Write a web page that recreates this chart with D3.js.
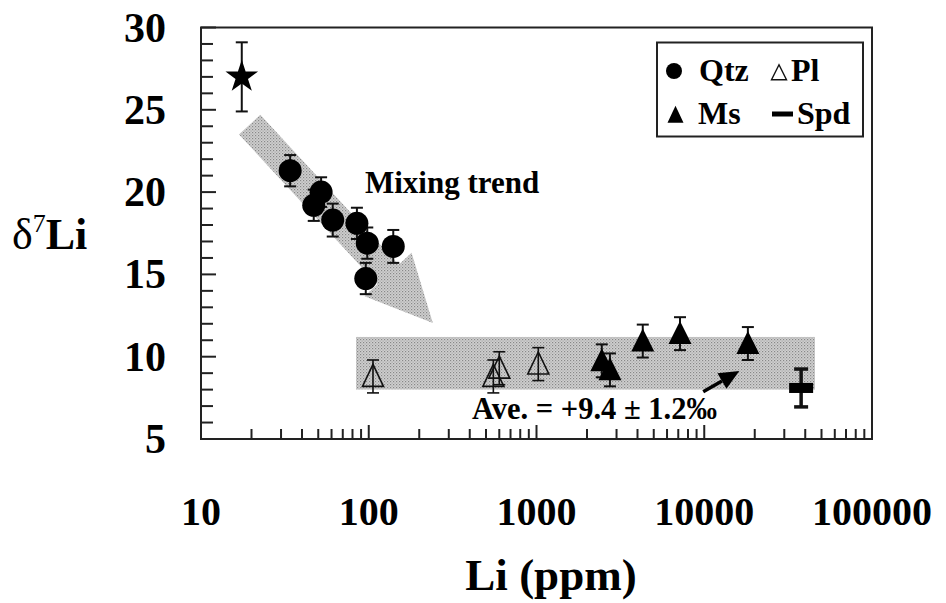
<!DOCTYPE html>
<html>
<head>
<meta charset="utf-8">
<script src="https://cdn.jsdelivr.net/npm/d3@7"></script>
<style>
  body { margin: 0; background: #fff; }
  text { font-family: "Liberation Serif", "Times New Roman", serif; font-weight: bold; }
</style>
</head>
<body>
<div id="plot"></div>
<script>
// values
var starLi = [17.5], starD7 = [27.0], starErr = [2.1];

var qtzLi  = [34, 52, 47, 61, 85, 98, 140, 96];
var qtzD7  = [21.3, 20.0, 19.2, 18.3, 18.1, 16.9, 16.7, 14.75];
var qtzErr = [0.95, 0.9, 0.95, 1.0, 0.95, 0.95, 1.0, 0.95];

var plLi  = [106, 553, 600, 1025];
var plD7  = [8.8, 8.8, 9.3, 9.55];
var plErr = [1.0, 1.0, 1.0, 1.0];

var msLi  = [2450, 2740, 4300, 7170, 18200];
var msD7  = [9.75, 9.2, 10.95, 11.4, 10.8];
var msErr = [1.0, 1.0, 1.0, 1.0, 1.0];

var spdLi = [37800], spdD7 = [8.1], spdErr = [1.15];

// average band and trend arrow
var bandLi = [84, 45700], bandD7 = [8.0, 11.2];
var trendFrom = [19.5, 24.1], trendTo = [241, 12.05];
var aveFrom = [9860, 7.87], aveTo = [16180, 9.13];

var xTicks = [10, 100, 1000, 10000, 100000];
var yTicks = [5, 10, 15, 20, 25, 30];

window.addEventListener('load', main);

function main(){
  var W = 946, H = 603;
  var left = 201, right = 872, top = 27.5, bottom = 439;

  var x = d3.scaleLog().domain([10, 100000]).range([left, right]);
  var y = d3.scaleLinear().domain([5, 30]).range([bottom, top]);

  var svg = d3.select('#plot').append('svg')
    .attr('width', W).attr('height', H);

  // dotted grey fill like the original
  var pat = svg.append('defs').append('pattern')
    .attr('id', 'dots').attr('patternUnits', 'userSpaceOnUse')
    .attr('width', 3).attr('height', 3);
  pat.append('rect').attr('width', 3).attr('height', 3).attr('fill', '#d0d0d0');
  pat.append('rect').attr('width', 1.2).attr('height', 1.2).attr('fill', '#888');
  pat.append('rect').attr('x', 1.5).attr('y', 1.5).attr('width', 1.2).attr('height', 1.2).attr('fill', '#a4a4a4');

  // average band
  svg.append('rect')
    .attr('x', x(bandLi[0])).attr('y', y(bandD7[1]))
    .attr('width', x(bandLi[1]) - x(bandLi[0]))
    .attr('height', y(bandD7[0]) - y(bandD7[1]))
    .attr('fill', 'url(#dots)');

  // mixing trend arrow
  var x0 = x(trendFrom[0]), y0 = y(trendFrom[1]);
  var x1 = x(trendTo[0]), y1 = y(trendTo[1]);
  var len = Math.hypot(x1 - x0, y1 - y0);
  var ux = (x1 - x0) / len, uy = (y1 - y0) / len;
  var nx = -uy, ny = ux;
  var hw = 14.5, headLen = 66, headHw = 32;
  var bx = x1 - ux * headLen, by = y1 - uy * headLen;
  var pts = [
    [x0 + nx * hw, y0 + ny * hw],
    [bx + nx * hw, by + ny * hw],
    [bx + nx * headHw, by + ny * headHw],
    [x1, y1],
    [bx - nx * headHw, by - ny * headHw],
    [bx - nx * hw, by - ny * hw],
    [x0 - nx * hw, y0 - ny * hw]
  ];
  svg.append('path')
    .attr('d', d3.line()(pts) + 'Z')
    .attr('fill', 'url(#dots)');

  // frame
  svg.append('rect')
    .attr('x', left).attr('y', top)
    .attr('width', right - left).attr('height', bottom - top)
    .attr('fill', 'none').attr('stroke', '#222').attr('stroke-width', 2);

  // y ticks (inside)
  var yMinor = d3.range(5, 31, 1);
  svg.append('g').selectAll('line').data(yMinor).join('line')
    .attr('x1', left).attr('x2', d => left + (d % 5 === 0 ? 15 : 12))
    .attr('y1', d => y(d)).attr('y2', d => y(d))
    .attr('stroke', '#222').attr('stroke-width', 2);

  svg.append('g').selectAll('text').data(yTicks).join('text')
    .attr('x', 166).attr('y', d => y(d) + 14)
    .attr('text-anchor', 'end')
    .attr('font-size', 42)
    .text(d => d);

  // x ticks (inside)
  var xMinor = [];
  for (var e = 10; e < 100000; e *= 10)
    for (var k = 1; k < 10; k++) xMinor.push(e * k);
  xMinor.push(100000);
  svg.append('g').selectAll('line').data(xMinor).join('line')
    .attr('x1', d => x(d)).attr('x2', d => x(d))
    .attr('y1', bottom).attr('y2', d => bottom - (xTicks.indexOf(d) >= 0 ? 14 : 10))
    .attr('stroke', '#222').attr('stroke-width', 2);

  svg.append('g').selectAll('text').data(xTicks).join('text')
    .attr('x', d => x(d)).attr('y', 525)
    .attr('text-anchor', 'middle')
    .attr('font-size', 40)
    .text(d => d);

  // axis titles
  svg.append('text')
    .attr('x', 551).attr('y', 590)
    .attr('text-anchor', 'middle')
    .attr('font-size', 45)
    .text('Li (ppm)');

  var yt = svg.append('text').attr('x', 12).attr('y', 249).attr('font-size', 44);
  yt.append('tspan').attr('font-weight', 'normal').text('δ');
  yt.append('tspan').attr('font-weight', 'normal').attr('font-size', 26).attr('dy', -17).text('7');
  yt.append('tspan').attr('dy', 17).text('Li');

  // error bars
  function errBars(li, d7, err, cap, sw) {
    var g = svg.append('g').attr('stroke', '#111').attr('stroke-width', sw || 2);
    li.forEach(function(v, i) {
      var cx = x(v), yt = y(d7[i] + err[i]), yb = y(d7[i] - err[i]);
      g.append('line').attr('x1', cx).attr('x2', cx).attr('y1', yt).attr('y2', yb);
      g.append('line').attr('x1', cx - cap).attr('x2', cx + cap).attr('y1', yt).attr('y2', yt);
      g.append('line').attr('x1', cx - cap).attr('x2', cx + cap).attr('y1', yb).attr('y2', yb);
    });
  }

  function tri(cx, cy, w, h) {
    return 'M' + cx + ',' + (cy - h * 0.55) +
      'L' + (cx + w / 2) + ',' + (cy + h * 0.45) +
      'L' + (cx - w / 2) + ',' + (cy + h * 0.45) + 'Z';
  }

  // star
  errBars(starLi, starD7, starErr, 6);
  svg.append('g').selectAll('path').data(starLi).join('path')
    .attr('transform', (d, i) => 'translate(' + x(d) + ',' + y(starD7[i]) + ')')
    .attr('d', d3.symbol(d3.symbolStar, 330)())
    .attr('fill', '#000');

  // Qtz
  errBars(qtzLi, qtzD7, qtzErr, 6);
  svg.append('g').selectAll('circle').data(qtzLi).join('circle')
    .attr('cx', d => x(d)).attr('cy', (d, i) => y(qtzD7[i]))
    .attr('r', 11.5).attr('fill', '#000');

  // Pl
  errBars(plLi, plD7, plErr, 6, 1.6);
  svg.append('g').selectAll('path').data(plLi).join('path')
    .attr('d', (d, i) => tri(x(d), y(plD7[i]), 21, 22))
    .attr('fill', 'none').attr('stroke', '#111').attr('stroke-width', 1.6);

  // Ms
  errBars(msLi, msD7, msErr, 6);
  svg.append('g').selectAll('path').data(msLi).join('path')
    .attr('d', (d, i) => tri(x(d), y(msD7[i]), 23, 23))
    .attr('fill', '#000');

  // Spd
  errBars(spdLi, spdD7, spdErr, 7, 3.5);
  svg.append('g').selectAll('rect').data(spdLi).join('rect')
    .attr('x', d => x(d) - 12).attr('y', (d, i) => y(spdD7[i]) - 5)
    .attr('width', 24).attr('height', 10).attr('fill', '#000');

  // annotations
  svg.append('text').attr('x', 365).attr('y', 193).attr('font-size', 31)
    .text('Mixing trend');
  svg.append('text').attr('x', 472).attr('y', 419).attr('font-size', 30.5)
    .text('Ave. = +9.4 ± 1.2‰');

  var ax0 = x(aveFrom[0]), ay0 = y(aveFrom[1]);
  var ax1 = x(aveTo[0]), ay1 = y(aveTo[1]);
  var al = Math.hypot(ax1 - ax0, ay1 - ay0);
  var aux = (ax1 - ax0) / al, auy = (ay1 - ay0) / al;
  var ahx = ax1 - aux * 20, ahy = ay1 - auy * 20;
  svg.append('line')
    .attr('x1', ax0).attr('y1', ay0).attr('x2', ahx).attr('y2', ahy)
    .attr('stroke', '#000').attr('stroke-width', 3.5);
  svg.append('path')
    .attr('d', d3.line()([
      [ax1, ay1],
      [ahx - auy * 9, ahy + aux * 9],
      [ahx + auy * 9, ahy - aux * 9]
    ]) + 'Z')
    .attr('fill', '#000');

  // legend
  var lg = svg.append('g');
  lg.append('rect').attr('x', 657).attr('y', 42.5).attr('width', 206).attr('height', 94)
    .attr('fill', '#fff').attr('stroke', '#222').attr('stroke-width', 2);
  lg.append('circle').attr('cx', 674).attr('cy', 71).attr('r', 8).attr('fill', '#000');
  lg.append('text').attr('x', 699).attr('y', 81).attr('font-size', 32).text('Qtz');
  lg.append('path').attr('d', tri(779, 73, 15, 15))
    .attr('fill', 'none').attr('stroke', '#111').attr('stroke-width', 1.4);
  lg.append('text').attr('x', 791).attr('y', 81).attr('font-size', 32).text('Pl');
  lg.append('path').attr('d', tri(675.5, 115, 16, 17)).attr('fill', '#000');
  lg.append('text').attr('x', 698).attr('y', 124).attr('font-size', 32).text('Ms');
  lg.append('rect').attr('x', 772).attr('y', 111.5).attr('width', 21).attr('height', 5).attr('fill', '#000');
  lg.append('text').attr('x', 797).attr('y', 124).attr('font-size', 32).text('Spd');
}
</script>
</body>
</html>
